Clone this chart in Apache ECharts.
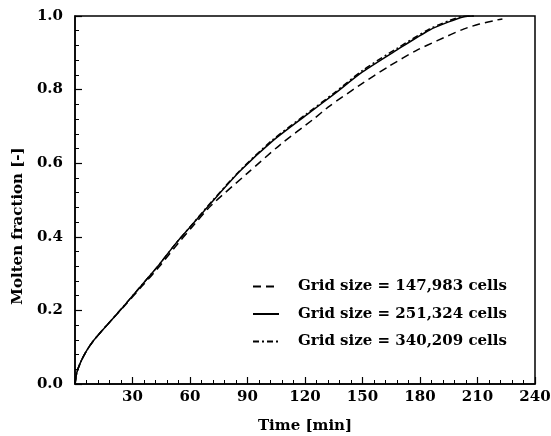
<!DOCTYPE html>
<html>
<head>
<meta charset="utf-8">
<script src="https://cdn.jsdelivr.net/npm/echarts@6/dist/echarts.min.js"></script>
<style>
  html, body { margin: 0; padding: 0; background: #fff; }
  #chart { width: 551px; height: 436px; }
</style>
</head>
<body>
<div id="chart"></div>
<script>
// time in minutes, molten fraction [-]
const seriesNames = ['Grid size = 147,983 cells', 'Grid size = 251,324 cells', 'Grid size = 340,209 cells'];

const coarseTime = [0, 1, 3, 6, 10, 17, 26, 35, 44, 52, 61, 71, 90, 107, 124, 133, 148, 164, 178, 189, 203, 211, 220, 223];
const coarseFrac = [0, 0.032, 0.06, 0.09, 0.12, 0.162, 0.213, 0.266, 0.319, 0.371, 0.426, 0.485, 0.573, 0.65, 0.718, 0.756, 0.81, 0.864, 0.906, 0.933, 0.965, 0.978, 0.989, 0.992];

const mediumTime = [0, 1, 3, 6, 10, 17, 26, 35, 44, 52, 61, 71, 86, 103, 121, 135, 150, 168, 185, 195, 203, 207, 208];
const mediumFrac = [0, 0.032, 0.06, 0.09, 0.12, 0.162, 0.215, 0.27, 0.325, 0.378, 0.432, 0.492, 0.578, 0.66, 0.732, 0.787, 0.848, 0.908, 0.962, 0.984, 0.998, 1.0, 1.0];

const fineTime = [0, 1, 3, 6, 10, 17, 26, 35, 44, 52, 61, 71, 86, 103, 121, 135, 150, 168, 185, 195, 202, 206, 208];
const fineFrac = [0, 0.032, 0.06, 0.09, 0.12, 0.162, 0.215, 0.27, 0.325, 0.378, 0.433, 0.494, 0.58, 0.663, 0.735, 0.79, 0.852, 0.912, 0.965, 0.987, 0.999, 1.0, 1.0];

const xTicks = [30, 60, 90, 120, 150, 180, 210, 240];

function zip(a, b) {
  return a.map((v, i) => [v, b[i]]);
}

const font = 'DejaVu Serif';
const chart = echarts.init(document.getElementById('chart'));

let option = {
  animation: false,
  grid: {
    left: 75, right: 16, top: 16, bottom: 52,
    outerBoundsMode: 'none',
    show: true, borderColor: '#000', borderWidth: 1.5
  },
  legend: {
    orient: 'vertical',
    left: 252, top: 279, padding: 0,
    itemWidth: 26, itemHeight: 10, itemGap: 12.5,
    itemStyle: { opacity: 0 },
    textStyle: { fontFamily: font, fontWeight: 'bold', fontSize: 15, color: '#000', padding: [0, 0, 0, 14] },
    data: seriesNames
  },
  xAxis: {
    type: 'value', min: 0, max: 240, interval: 30,
    name: 'Time [min]', nameLocation: 'middle', nameGap: 35,
    nameTextStyle: { fontFamily: font, fontWeight: 'bold', fontSize: 15, color: '#000' },
    axisLine: { lineStyle: { color: '#000', width: 1.5 } },
    axisTick: { inside: true, length: 7, lineStyle: { color: '#000', width: 1.2 } },
    minorTick: { show: true, splitNumber: 5, length: 4, lineStyle: { color: '#000', width: 1 } },
    axisLabel: {
      fontFamily: font, fontWeight: 'bold', fontSize: 15, color: '#000', margin: 6,
      formatter: v => (xTicks.indexOf(v) >= 0 ? String(v) : '')
    },
    splitLine: { show: false }
  },
  yAxis: {
    type: 'value', min: 0, max: 1, interval: 0.2,
    axisLine: { show: true, lineStyle: { color: '#000', width: 1.5 } },
    axisTick: { show: true, inside: true, length: 7, lineStyle: { color: '#000', width: 1.2 } },
    minorTick: { show: true, splitNumber: 5, length: 4, lineStyle: { color: '#000', width: 1 } },
    axisLabel: {
      fontFamily: font, fontWeight: 'bold', fontSize: 15, color: '#000', margin: 12,
      formatter: v => v.toFixed(1)
    },
    splitLine: { show: false }
  },
  graphic: [{
    type: 'text',
    x: 11, y: 226,
    rotation: Math.PI / 2,
    style: {
      text: 'Molten fraction [-]',
      fontFamily: font, fontWeight: 'bold', fontSize: 15, fill: '#000',
      align: 'center', verticalAlign: 'top'
    }
  }],
  series: [{
    name: seriesNames[0], type: 'line', symbol: 'none', smooth: 0.25,
    itemStyle: { color: '#000' },
    lineStyle: { color: '#000', width: 1.5, type: [8, 5] },
    data: zip(coarseTime, coarseFrac)
  }, {
    name: seriesNames[1], type: 'line', symbol: 'none', smooth: 0.25,
    itemStyle: { color: '#000' },
    lineStyle: { color: '#000', width: 1.5, type: 'solid' },
    data: zip(mediumTime, mediumFrac)
  }, {
    name: seriesNames[2], type: 'line', symbol: 'none', smooth: 0.25,
    itemStyle: { color: '#000' },
    lineStyle: { color: '#000', width: 1.5, type: [6, 3, 2, 3] },
    data: zip(fineTime, fineFrac)
  }]
};

chart.setOption(option);
</script>
</body>
</html>
